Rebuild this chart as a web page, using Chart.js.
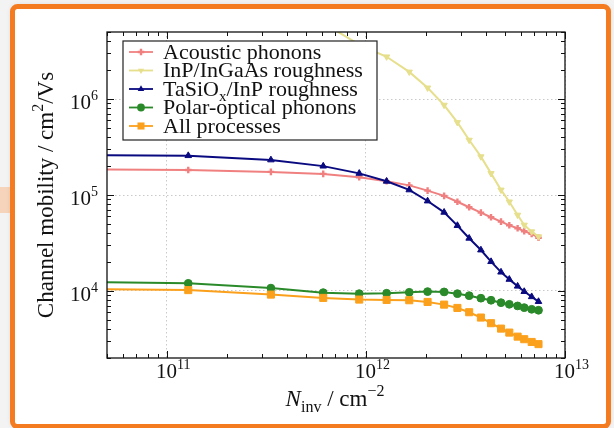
<!DOCTYPE html>
<html>
<head>
<meta charset="utf-8">
<title>Channel mobility vs inversion density</title>
<script src="https://cdn.jsdelivr.net/npm/chart.js@4/dist/chart.umd.min.js"></script>
<style>
  html, body { margin: 0; padding: 0; background: #f3f3f3; overflow: hidden; }
  canvas { display: block; }
</style>
</head>
<body>
<canvas id="mobility" width="614" height="428"></canvas>
<script>
// inversion charge density, cm^-2 (first point sits left of the visible range)
const nInv = [2.0e10, 1.28e11, 3.33e11, 6.1e11, 9.25e11, 1.27e12, 1.65e12, 2.04e12, 2.47e12,
  2.88e12, 3.3e12, 3.78e12, 4.25e12, 4.77e12, 5.25e12, 5.78e12, 6.24e12, 6.8e12, 7.36e12];

// channel mobility per scattering mechanism, cm^2/Vs
const acousticPhonons = [1.86e5, 1.82e5, 1.74e5, 1.66e5, 1.53e5, 1.39e5, 1.26e5, 1.11e5, 9.8e4,
  8.5e4, 7.45e4, 6.55e4, 5.86e4, 5.28e4, 4.83e4, 4.5e4, 4.19e4, 3.93e4, 3.59e4];
const inpInGaAsRoughness = [1.2e8, 6.0e7, 2.0e7, 6.2e6, 3.7e6, 2.76e6, 1.92e6, 1.31e6, 8.66e5,
  5.71e5, 3.74e5, 2.51e5, 1.68e5, 1.13e5, 8.5e4, 6.19e4, 4.87e4, 4.15e4, 3.68e4];
const taSiOxInPRoughness = [2.62e5, 2.57e5, 2.32e5, 2.0e5, 1.68e5, 1.39e5, 1.13e5, 8.66e4, 6.6e4,
  4.8e4, 3.54e4, 2.67e4, 2.02e4, 1.57e4, 1.32e4, 1.12e4, 9.85e3, 8.7e3, 7.75e3];
const polarOpticalPhonons = [1.26e4, 1.2e4, 1.07e4, 9.6e3, 9.37e3, 9.46e3, 9.68e3, 9.84e3, 9.77e3,
  9.37e3, 8.93e3, 8.4e3, 8.0e3, 7.55e3, 7.26e3, 6.98e3, 6.7e3, 6.44e3, 6.29e3];
const allProcesses = [1.06e4, 1.02e4, 9.16e3, 8.46e3, 8.13e3, 8.06e3, 8.0e3, 7.68e3, 7.2e3,
  6.65e3, 6.0e3, 5.28e3, 4.61e3, 4.05e3, 3.68e3, 3.34e3, 3.14e3, 2.94e3, 2.79e3];

// decade exponents for the tick labels
const xTickExps = [11, 12, 13];
const yTickExps = [4, 5, 6];
const xRange = [5e10, 1e13];
const yRange = [2e3, 5e6];

const SERIF = '"Liberation Serif", "Times New Roman", serif';

const series = [
  { label: 'Acoustic phonons', legend: [['Acoustic phonons']], data: acousticPhonons,
    color: '#f08080', style: 'cross', radius: 3.3, rot: 0, bw: 2.4 },
  { label: 'InP/InGaAs roughness', legend: [['InP/InGaAs roughness']], data: inpInGaAsRoughness,
    color: '#e6df8c', style: 'triangle', radius: 3.6, rot: 180, bw: 1 },
  { label: 'TaSiOx/InP roughness', legend: [['TaSiO'], ['x', 'sub'], ['/InP roughness']], data: taSiOxInPRoughness,
    color: '#0a0a80', style: 'triangle', radius: 3.8, rot: 0, bw: 1 },
  { label: 'Polar-optical phonons', legend: [['Polar-optical phonons']], data: polarOpticalPhonons,
    color: '#2a8a2a', style: 'circle', radius: 3.9, rot: 0, bw: 1 },
  { label: 'All processes', legend: [['All processes']], data: allProcesses,
    color: '#fba01c', style: 'rect', radius: 5, rot: 0, bw: 1 }
];

function isDecade(v) {
  const l = Math.log10(v);
  return Math.abs(l - Math.round(l)) < 1e-6;
}

function logTicks(min, max) {
  const out = [];
  for (let e = Math.floor(Math.log10(min)); e <= Math.ceil(Math.log10(max)); e++) {
    for (let m = 1; m < 10; m++) {
      const v = m * Math.pow(10, e);
      if (v >= min * 0.999 && v <= max * 1.001) out.push({ value: v });
    }
  }
  return out;
}

// run of text pieces: [text, kind] where kind is normal / sup / sub / italic
function drawRun(ctx, parts, x, y, size, align) {
  const pieces = parts.map(([t, kind]) => {
    const small = kind === 'sup' || kind === 'sub';
    const fs = small ? Math.round(size * 0.68) : size;
    const font = (kind === 'italic' ? 'italic ' : '') + fs + 'px ' + SERIF;
    const dy = kind === 'sup' ? -size * 0.42 : kind === 'sub' ? size * 0.25 : 0;
    ctx.font = font;
    return { t, font, dy, w: ctx.measureText(t).width };
  });
  const total = pieces.reduce((s, p) => s + p.w, 0);
  let cx = align === 'center' ? x - total / 2 : align === 'right' ? x - total : x;
  ctx.textAlign = 'left';
  ctx.textBaseline = 'alphabetic';
  for (const p of pieces) {
    ctx.font = p.font;
    ctx.fillText(p.t, cx, y + p.dy);
    cx += p.w;
  }
}

function drawMarker(ctx, s, x, y) {
  ctx.save();
  ctx.fillStyle = s.color;
  ctx.strokeStyle = s.color;
  ctx.lineWidth = s.bw;
  ctx.beginPath();
  const r = s.radius;
  if (s.style === 'circle') {
    ctx.arc(x, y, r, 0, Math.PI * 2);
    ctx.fill();
  } else if (s.style === 'rect') {
    const h = r * Math.SQRT1_2;
    ctx.rect(x - h, y - h, 2 * h, 2 * h);
    ctx.fill();
  } else if (s.style === 'triangle') {
    let a = s.rot * Math.PI / 180;
    for (let i = 0; i < 3; i++) {
      const px = x + Math.sin(a) * r, py = y - Math.cos(a) * r;
      i ? ctx.lineTo(px, py) : ctx.moveTo(px, py);
      a += Math.PI * 2 / 3;
    }
    ctx.closePath();
    ctx.fill();
  } else {
    ctx.moveTo(x - r, y); ctx.lineTo(x + r, y);
    ctx.moveTo(x, y - r); ctx.lineTo(x, y + r);
    ctx.stroke();
  }
  ctx.restore();
}

// page, frame and backdrop behind the plot
const pagePlugin = {
  id: 'page',
  beforeDraw(chart) {
    const ctx = chart.ctx;
    ctx.save();
    ctx.fillStyle = '#f3f3f3';
    ctx.fillRect(0, 0, chart.width, chart.height);
    ctx.fillStyle = '#f6d4bb';
    ctx.fillRect(0, 187, 12, 26);
    ctx.beginPath();
    ctx.roundRect(12.5, 6.5, 596, 420, 5);
    ctx.shadowColor = 'rgba(0,0,0,0.18)';
    ctx.shadowBlur = 6;
    ctx.fillStyle = '#ffffff';
    ctx.fill();
    ctx.shadowColor = 'transparent';
    ctx.lineWidth = 5;
    ctx.strokeStyle = '#f47b20';
    ctx.stroke();
    ctx.restore();
  }
};

// inward ticks on all four sides, axes box, labels and the boxed legend
const axesPlugin = {
  id: 'axesDecor',
  afterDatasetsDraw(chart) {
    const ctx = chart.ctx;
    const { left, right, top, bottom } = chart.chartArea;
    const xs = chart.scales.x, ys = chart.scales.y;
    ctx.save();
    ctx.strokeStyle = '#111';
    ctx.lineWidth = 1;
    ctx.beginPath();
    for (const t of xs.ticks) {
      const px = Math.round(xs.getPixelForValue(t.value)) + 0.5;
      const len = isDecade(t.value) ? 7 : 4;
      ctx.moveTo(px, bottom); ctx.lineTo(px, bottom - len);
      ctx.moveTo(px, top); ctx.lineTo(px, top + len);
    }
    for (const t of ys.ticks) {
      const py = Math.round(ys.getPixelForValue(t.value)) + 0.5;
      const len = isDecade(t.value) ? 7 : 4;
      ctx.moveTo(left, py); ctx.lineTo(left + len, py);
      ctx.moveTo(right, py); ctx.lineTo(right - len, py);
    }
    ctx.stroke();
    ctx.lineWidth = 1.3;
    ctx.strokeRect(left, top, right - left, bottom - top);

    ctx.fillStyle = '#111';
    for (const e of xTickExps) {
      const px = xs.getPixelForValue(Math.pow(10, e));
      drawRun(ctx, [['10'], [String(e), 'sup']], px - 11, 378, 21, 'left');
    }
    for (const e of yTickExps) {
      const py = ys.getPixelForValue(Math.pow(10, e));
      drawRun(ctx, [['10'], [String(e), 'sup']], 98, py + 10, 21, 'right');
    }

    drawRun(ctx, [['N', 'italic'], ['inv', 'sub'], [' / cm'], ['\u22122', 'sup']], 335, 406, 23, 'center');
    ctx.save();
    ctx.translate(53, 195);
    ctx.rotate(-Math.PI / 2);
    drawRun(ctx, [['Channel mobility / cm'], ['2', 'sup'], ['/Vs']], 0, 0, 23, 'center');
    ctx.restore();

    // legend
    const bx = 123, by = 41, bw = 254, bh = 99;
    ctx.fillStyle = '#ffffff';
    ctx.fillRect(bx, by, bw, bh);
    ctx.strokeStyle = '#222';
    ctx.lineWidth = 1.2;
    ctx.strokeRect(bx, by, bw, bh);
    series.forEach((s, i) => {
      const ry = 52 + i * 18.5;
      ctx.strokeStyle = s.color;
      ctx.lineWidth = 1.8;
      ctx.beginPath();
      ctx.moveTo(129, ry); ctx.lineTo(153, ry);
      ctx.stroke();
      drawMarker(ctx, s, 141, ry);
      ctx.fillStyle = '#111';
      drawRun(ctx, s.legend, 163, ry + 6.5, 22, 'left');
    });
    ctx.restore();
  }
};

const zeroFit = (scale) => {
  if (scale.isHorizontal()) scale.height = 0; else scale.width = 0;
};

const axisCommon = {
  type: 'logarithmic',
  afterFit: zeroFit,
  ticks: { display: false },
  border: { display: false, dash: [1.5, 2.5] },
  grid: {
    drawTicks: false,
    lineWidth: 0.9,
    color: (c) => (c.tick && isDecade(c.tick.value) ? '#c4c4c4' : 'rgba(0,0,0,0)')
  }
};

new Chart(document.getElementById('mobility'), {
  type: 'line',
  data: {
    datasets: series.map((s, i) => ({
      label: s.label,
      data: nInv.map((x, k) => ({ x, y: s.data[k] })),
      borderColor: s.color,
      backgroundColor: s.color,
      borderWidth: 2,
      pointStyle: s.style,
      pointRotation: s.rot,
      pointRadius: s.radius,
      pointBorderWidth: s.bw,
      pointBorderColor: s.color,
      pointBackgroundColor: s.color,
      tension: 0,
      order: series.length - i
    }))
  },
  options: {
    responsive: false,
    animation: false,
    events: [],
    layout: { padding: { left: 107, top: 32, right: 49, bottom: 70 } },
    plugins: { legend: { display: false }, tooltip: { enabled: false } },
    scales: {
      x: Object.assign({}, axisCommon, {
        min: xRange[0], max: xRange[1],
        afterBuildTicks: (sc) => { sc.ticks = logTicks(xRange[0], xRange[1]); }
      }),
      y: Object.assign({}, axisCommon, {
        min: yRange[0], max: yRange[1],
        afterBuildTicks: (sc) => { sc.ticks = logTicks(yRange[0], yRange[1]); }
      })
    }
  },
  plugins: [pagePlugin, axesPlugin]
});
</script>
</body>
</html>
